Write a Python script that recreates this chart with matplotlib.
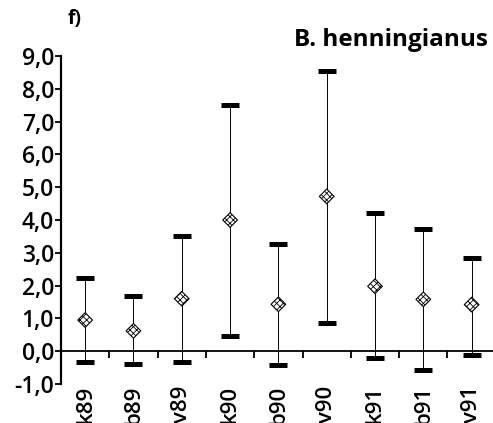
import numpy as np
import matplotlib
matplotlib.use("Agg")
import matplotlib.pyplot as plt
from matplotlib.ticker import FixedLocator

# sampling dates and summary values (mean, lower bound, upper bound)
labels = ["k89", "b89", "v89", "k90", "b90", "v90", "k91", "b91", "v91"]
mean = [0.95, 0.62, 1.6, 4.0, 1.43, 4.72, 1.98, 1.58, 1.42]
lower = [-0.32, -0.40, -0.32, 0.47, -0.43, 0.85, -0.20, -0.58, -0.13]
upper = [2.23, 1.68, 3.52, 7.52, 3.28, 8.55, 4.22, 3.73, 2.83]
yticks = [-1, 0, 1, 2, 3, 4, 5, 6, 7, 8, 9]
ytick_labels = ["-1,0", "0,0", "1,0", "2,0", "3,0", "4,0", "5,0", "6,0", "7,0", "8,0", "9,0"]

plt.rcParams["font.family"] = ["Open Sans", "DejaVu Sans"]
plt.rcParams["hatch.linewidth"] = 0.6

fig = plt.figure(figsize=(4.93, 4.23), dpi=100)
ax = fig.add_axes([0.1237, 0.0922, 0.882, 0.7754])

x = np.arange(len(labels))
mean = np.array(mean)
lower = np.array(lower)
upper = np.array(upper)

# range bars with thick caps
ax.errorbar(x, mean, yerr=[mean - lower, upper - mean], fmt="none",
            ecolor="black", elinewidth=0.7, capsize=6.8, capthick=3.6, zorder=2)
# checkered diamonds for the means
ax.scatter(x, mean, marker="D", s=56, facecolor="white", edgecolor="black",
           hatch="xxxxx", linewidth=0.8, zorder=3)

ax.set_xlim(-0.5, len(labels) - 0.5)
ax.set_ylim(-1, 9)

ax.spines["top"].set_visible(False)
ax.spines["right"].set_visible(False)
ax.spines["bottom"].set_position(("data", 0))
ax.spines["left"].set_linewidth(1.6)
ax.spines["bottom"].set_linewidth(1.3)

ax.set_yticks(yticks)
ax.set_yticklabels(ytick_labels, fontsize=16.5, fontweight="semibold")
ax.tick_params(axis="y", length=4, width=1.3, pad=1)

ax.set_xticks(x)
ax.set_xticklabels(labels, rotation=90, fontsize=16, fontweight="semibold", va="top")
ax.tick_params(axis="x", which="major", length=0, pad=25)
ax.xaxis.set_minor_locator(FixedLocator(np.arange(len(labels)) + 0.5))
ax.tick_params(axis="x", which="minor", length=5, width=1.3, direction="out")

fig.text(0.99, 0.905, "B. henningianus", ha="right", va="center",
         fontsize=17.5, fontweight="bold")
fig.text(0.138, 0.955, "f)", ha="left", va="center", fontsize=14, fontweight="bold")

fig.savefig("out.png", dpi=100)
